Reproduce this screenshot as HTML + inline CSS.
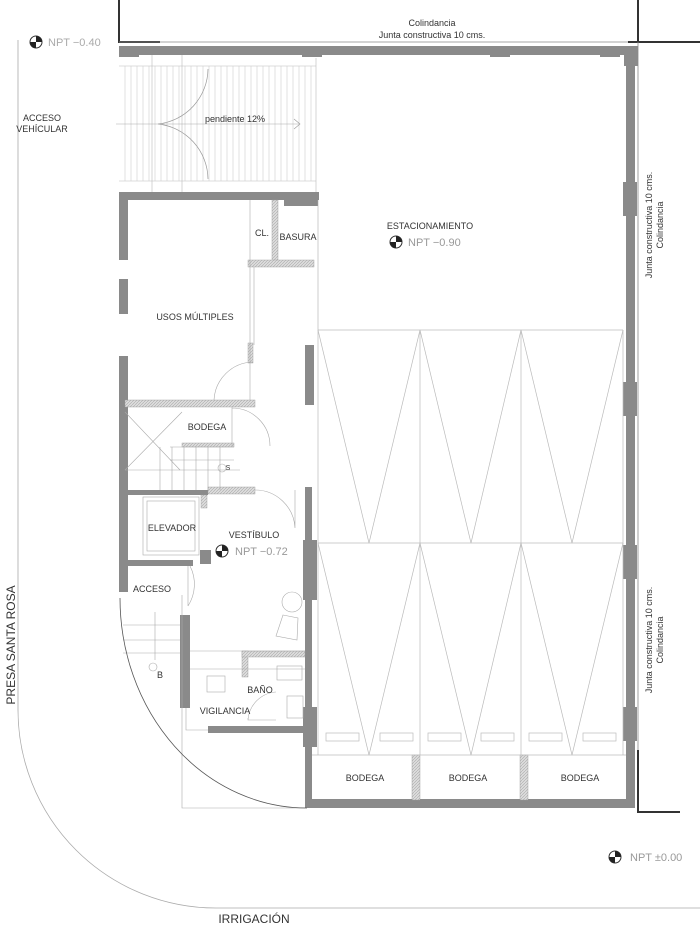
<!DOCTYPE html>
<html><head><meta charset="utf-8"><style>
html,body{margin:0;padding:0;background:#fff;}
svg{display:block;}
text{font-family:"Liberation Sans",sans-serif;fill:#333;}
</style></head><body>
<svg width="700" height="930" viewBox="0 0 700 930" xmlns="http://www.w3.org/2000/svg">
<defs>
<pattern id="h" width="3" height="3" patternUnits="userSpaceOnUse"><rect width="3" height="3" fill="#ddd"/><path d="M0,3L3,0" stroke="#aaa" stroke-width="0.6"/></pattern>
</defs>
<!-- street lines -->
<path d="M18,40 L18,710 A198,198 0 0 0 216,908 L700,908" fill="none" stroke="#aaa" stroke-width="0.8"/>
<!-- property lines -->
<path d="M119,0 L119,42 L160,42" fill="none" stroke="#333" stroke-width="2"/>
<line x1="119" y1="42" x2="638" y2="42" stroke="#888" stroke-width="0.8"/>
<path d="M638,0 L638,42 M628,42 L700,42" fill="none" stroke="#333" stroke-width="2"/>
<line x1="638" y1="42" x2="638" y2="750" stroke="#888" stroke-width="0.8"/>
<path d="M638,750 L638,812 L680,812" fill="none" stroke="#333" stroke-width="2"/>

<!-- ramp -->
<g stroke="#bbb" stroke-width="0.6">
<line x1="119" y1="66" x2="316" y2="66"/><line x1="119" y1="181" x2="316" y2="181"/>
<line x1="152" y1="55" x2="152" y2="192"/><line x1="182" y1="55" x2="182" y2="192"/>
<line x1="316" y1="58" x2="316" y2="192"/>
</g>
<g stroke="#ccc" stroke-width="0.6" id="rl"></g>
<path d="M125,66V181 M131,66V181 M137,66V181 M143,66V181 M149,66V181 M155,66V181 M161,66V181 M167,66V181 M173,66V181 M179,66V181 M185,66V181 M191,66V181 M197,66V181 M203,66V181 M209,66V181 M215,66V181 M221,66V181 M227,66V181 M233,66V181 M239,66V181 M245,66V181 M251,66V181 M257,66V181 M263,66V181 M269,66V181 M275,66V181 M281,66V181 M287,66V181 M293,66V181 M299,66V181 M305,66V181 M311,66V181" stroke="#ccc" stroke-width="0.6"/>
<path d="M208,69 A56,56 0 0 1 158,124 M158,124 A56,56 0 0 1 208,179" fill="none" stroke="#999" stroke-width="0.7"/>
<line x1="116" y1="124" x2="300" y2="124" stroke="#aaa" stroke-width="0.6"/>
<path d="M294,119 L300,124 L294,129" fill="none" stroke="#999" stroke-width="0.6"/>

<!-- walls -->
<g fill="#8a8a8a">
<rect x="119" y="46" width="517" height="9"/>
<rect x="626" y="46" width="9" height="762"/>
<rect x="305" y="799" width="330" height="9"/>
<rect x="119" y="192" width="200" height="8"/>
<rect x="284" y="195" width="34" height="11"/>
<rect x="119" y="192" width="9" height="68"/>
<rect x="119" y="279" width="9" height="35"/>
<rect x="119" y="356" width="9" height="236"/>
<rect x="123" y="490" width="85" height="5"/>
<rect x="123" y="560" width="70" height="6"/>
<rect x="200" y="550" width="11" height="14"/>
<rect x="180" y="615" width="10" height="93"/>
<rect x="208" y="726" width="97" height="7"/>
<rect x="305" y="345" width="9" height="60"/>
<rect x="305" y="487" width="7" height="320"/>
<rect x="303" y="540" width="14" height="60"/>
<rect x="303" y="707" width="14" height="40"/>
<rect x="623" y="182" width="14" height="34"/>
<rect x="623" y="382" width="14" height="34"/>
<rect x="623" y="545" width="14" height="34"/>
<rect x="623" y="707" width="14" height="34"/>
<rect x="119" y="46" width="20" height="11"/>
<rect x="302" y="46" width="20" height="11"/>
<rect x="490" y="46" width="20" height="11"/>
<rect x="600" y="46" width="20" height="11"/>
<rect x="624" y="46" width="14" height="20"/>
</g>
<g fill="url(#h)" stroke="#999" stroke-width="0.4">
<rect x="272" y="200" width="6" height="62"/>
<rect x="248" y="260" width="66" height="7"/>
<rect x="248" y="343" width="5" height="20"/>
<rect x="125" y="400" width="130" height="7"/>
<rect x="182" y="443" width="52" height="4"/>
<rect x="208" y="487" width="47" height="7"/>
<rect x="201" y="495" width="6" height="13"/>
<rect x="242" y="651" width="6" height="26"/>
<rect x="242" y="651" width="63" height="6"/>
<rect x="412" y="755" width="8" height="45"/>
<rect x="520" y="755" width="8" height="45"/>
</g>

<!-- parking -->
<g stroke="#bbb" stroke-width="0.7" fill="none">
<line x1="318" y1="330" x2="318" y2="755"/>
<line x1="420" y1="330" x2="420" y2="755"/>
<line x1="521" y1="330" x2="521" y2="755"/>
<line x1="623" y1="330" x2="623" y2="755"/>
<line x1="318" y1="330" x2="623" y2="330"/>
<line x1="318" y1="543" x2="623" y2="543"/>
<line x1="312" y1="755" x2="626" y2="755"/>
<path d="M318,330 L369,543 L420,330 L471,543 L521,330 L572,543 L623,330"/>
<path d="M318,543 L369,755 L420,543 L471,755 L521,543 L572,755 L623,543"/>
<rect x="326" y="733" width="33" height="8"/><rect x="380" y="733" width="33" height="8"/>
<rect x="428" y="733" width="33" height="8"/><rect x="481" y="733" width="33" height="8"/>
<rect x="529" y="733" width="33" height="8"/><rect x="583" y="733" width="33" height="8"/>
</g>

<!-- interior thin lines -->
<g stroke="#aaa" stroke-width="0.6" fill="none">
<line x1="250" y1="200" x2="250" y2="400"/><line x1="254" y1="267" x2="254" y2="345"/>
<line x1="318" y1="200" x2="318" y2="330"/>
<path d="M253,362 A40,40 0 0 0 214,400"/>
<path d="M232,407 L232,447 M232,408 A38,38 0 0 1 270,446"/>
<line x1="125" y1="412" x2="180" y2="470"/><line x1="125" y1="470" x2="182" y2="412"/>
<path d="M170,447H234 M170,460H234 M125,470H240 M160,447V490 M172,447V490 M184,447V490 M196,447V490 M208,447V490 M220,447V490"/>
<circle cx="222" cy="468" r="4"/>
<path d="M255,490 A40,40 0 0 1 295,528 M295,490V528"/>
<rect x="143" y="497" width="56" height="58"/><rect x="147" y="501" width="48" height="50"/>
<path d="M190,566 A40,40 0 0 1 188,606 M188,566V606"/>
<circle cx="292" cy="602" r="10"/>
<path d="M283,615 L298,618 L297,640 L276,636 Z"/>
<path d="M123,625H180 M123,640H180 M123,653H180 M155,612V660"/>
<circle cx="153" cy="667" r="4"/>
<path d="M190,651H305 M190,669H305 M186,708V730H208"/>
<rect x="207" y="676" width="18" height="16"/>
<rect x="277" y="666" width="25" height="14"/><rect x="287" y="696" width="16" height="22"/>
<path d="M248,720 A30,30 0 0 1 276,692 M248,718V720H276"/>
<path d="M182,733V808H305 M182,595V733"/>
</g>
<path d="M120,598 A187,210 0 0 0 307,808" fill="none" stroke="#555" stroke-width="0.8"/>

<!-- level markers -->
<g>
<circle cx="36" cy="42" r="6" fill="#fff" stroke="#333"/><path d="M36,36A6,6 0 0 1 42,42H36Z M36,48A6,6 0 0 1 30,42H36Z" fill="#222"/>
<circle cx="396" cy="242" r="6" fill="#fff" stroke="#333"/><path d="M396,236A6,6 0 0 1 402,242H396Z M396,248A6,6 0 0 1 390,242H396Z" fill="#222"/>
<circle cx="222" cy="551" r="6" fill="#fff" stroke="#333"/><path d="M222,545A6,6 0 0 1 228,551H222Z M222,557A6,6 0 0 1 216,551H222Z" fill="#222"/>
<circle cx="615" cy="857" r="6" fill="#fff" stroke="#333"/><path d="M615,851A6,6 0 0 1 621,857H615Z M615,863A6,6 0 0 1 609,857H615Z" fill="#222"/>
</g>

<!-- labels -->
<g font-size="9" text-anchor="middle">
<text x="432" y="26">Colindancia</text>
<text x="432" y="38">Junta constructiva 10 cms.</text>
<text x="42" y="121">ACCESO</text><text x="42" y="132">VEHÍCULAR</text>
<text x="235" y="122">pendiente 12%</text>
<text x="262" y="236">CL.</text>
<text x="298" y="240">BASURA</text>
<text x="430" y="229">ESTACIONAMIENTO</text>
<text x="195" y="320">USOS MÚLTIPLES</text>
<text x="207" y="430">BODEGA</text>
<text x="172" y="531">ELEVADOR</text>
<text x="254" y="538">VESTÍBULO</text>
<text x="152" y="592">ACCESO</text>
<text x="160" y="678">B</text>
<text x="260" y="693">BAÑO</text>
<text x="225" y="714">VIGILANCIA</text>
<text x="365" y="781">BODEGA</text>
<text x="468" y="781">BODEGA</text>
<text x="580" y="781">BODEGA</text>
<text x="228" y="470" font-size="7" fill="#999">S</text>
</g>
<g font-size="11" fill="#aaa">
<text x="48" y="46" style="fill:#aaa">NPT  −0.40</text>
<text x="408" y="246" style="fill:#999">NPT  −0.90</text>
<text x="235" y="555" style="fill:#999">NPT  −0.72</text>
<text x="630" y="861" style="fill:#999">NPT  ±0.00</text>
</g>
<g font-size="9" text-anchor="middle">
<text transform="translate(652,225) rotate(-90)">Junta constructiva 10 cms.</text>
<text transform="translate(663,225) rotate(-90)">Colindancia</text>
<text transform="translate(652,640) rotate(-90)">Junta constructiva 10 cms.</text>
<text transform="translate(663,640) rotate(-90)">Colindancia</text>
</g>
<text transform="translate(15,645) rotate(-90)" font-size="12" text-anchor="middle">PRESA SANTA ROSA</text>
<text x="254" y="923" font-size="12" text-anchor="middle">IRRIGACIÓN</text>
</svg>
</body></html>
